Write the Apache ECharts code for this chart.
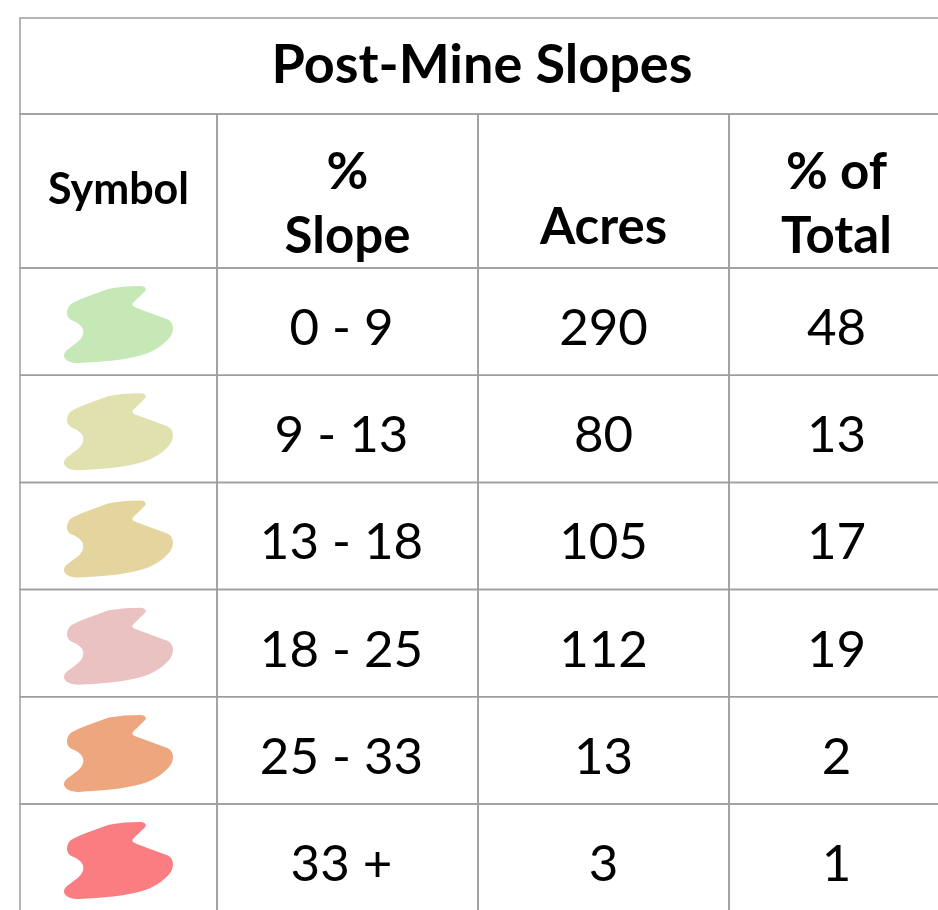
<!DOCTYPE html>
<html><head><meta charset="utf-8">
<script src="https://cdn.jsdelivr.net/npm/echarts@6/dist/echarts.min.js"></script>
<style>html,body{margin:0;padding:0;background:#fff}#chart{width:938px;height:910px}</style>
</head><body><div id="chart"></div>
<script>
// ---- data ----
const tableTitle = 'Post-Mine Slopes';
const columnHeaders = ['Symbol', '%\nSlope', 'Acres', '% of\nTotal'];
const slopeRanges = ['0 - 9', '9 - 13', '13 - 18', '18 - 25', '25 - 33', '33 +'];
const acres = [290, 80, 105, 112, 13, 3];
const percentOfTotal = [48, 13, 17, 19, 2, 1];
const symbolColors = ['#c6e7b6', '#e1e1b0', '#e4d59f', '#eac2c1', '#eea67f', '#fa7e81'];

// ---- layout / style ----
const colEdges = [0, 197, 458, 709, 924];
const titleH = 96, headerH = 154, rowH = 107.2;
const rowEdges = [0, titleH, titleH + headerH];
for (let i = 1; i <= slopeRanges.length; i++) rowEdges.push(titleH + headerH + rowH * i);
const headerOffsets = [-1, 14, 37, 14];
const lineColor = '#9d9d9d';
const FONT = 'Lato';
const blobPath = 'M138 8 C170 2 200 0 228 0 C242 0 252 6 244 16 L210 50 C204 57 208 62 220 66 L310 100 C330 108 332 135 318 155 C300 178 270 200 228 211 C190 222 120 230 48 233 C20 234 -5 218 10 198 C25 182 55 170 62 145 C66 125 50 112 30 104 C10 96 10 70 25 55 C45 40 100 22 138 8 Z';

const rowCount = 2 + slopeRanges.length;
const rowsData = [];
for (let r = 0; r < rowCount; r++) rowsData.push([0, r]);

function cellRect(api, c0, c1, r) {
  const p0 = api.coord([colEdges[c0], rowEdges[r]]);
  const p1 = api.coord([colEdges[c1], rowEdges[r + 1]]);
  return {x: p0[0], y: p0[1], width: p1[0] - p0[0], height: p1[1] - p0[1]};
}
function border(rect) {
  return {type: 'rect', shape: rect, style: {fill: 'none', stroke: lineColor, lineWidth: 1.5}, z2: 5};
}
function txt(x, y, text, size, weight, lh) {
  return {type: 'text', x: x, y: y, z2: 10, style: {
    text: text, fill: '#000', fontFamily: FONT, fontSize: size, fontWeight: weight,
    align: 'center', verticalAlign: 'middle', lineHeight: lh || size
  }};
}

function renderItem(params, api) {
  const r = api.value(1);
  const children = [];
  if (r === 0) {
    const rect = cellRect(api, 0, 4, 0);
    children.push(border(rect));
    children.push(txt(rect.x + rect.width / 2, rect.y + rect.height / 2 - 0.5, tableTitle, 54, 'bold'));
  } else if (r === 1) {
    for (let c = 0; c < 4; c++) {
      const rect = cellRect(api, c, c + 1, 1);
      children.push(border(rect));
      children.push(txt(rect.x + rect.width / 2, rect.y + rect.height / 2 + headerOffsets[c],
        columnHeaders[c], c === 0 ? 43 : 51, 'bold', 64));
    }
  } else {
    const i = r - 2;
    const vals = [null, slopeRanges[i], String(acres[i]), String(percentOfTotal[i])];
    for (let c = 0; c < 4; c++) {
      const rect = cellRect(api, c, c + 1, r);
      children.push(border(rect));
      const cx = rect.x + rect.width / 2, cy = rect.y + rect.height / 2;
      if (c === 0) {
        children.push({type: 'path', z2: 3, shape: {pathData: blobPath, x: cx - 54.5, y: cy - 35.5, width: 109, height: 77, layout: 'cover'},
          style: {fill: symbolColors[i]}});
      } else {
        children.push(txt(cx + (c === 1 ? -6 : 0), cy + 7, vals[c], 51, 'normal'));
      }
    }
  }
  return {type: 'group', children: children};
}

const chart = echarts.init(document.getElementById('chart'), null, {renderer: 'canvas'});
chart.setOption({
  backgroundColor: '#fff',
  animation: false,
  grid: {left: 20, top: 18, width: colEdges[4], height: rowEdges[rowEdges.length - 1], outerBoundsMode: 'none', containLabel: false},
  xAxis: {type: 'value', min: 0, max: colEdges[4], show: false},
  yAxis: {type: 'value', min: 0, max: rowEdges[rowEdges.length - 1], inverse: true, show: false},
  series: [{
    type: 'custom', coordinateSystem: 'cartesian2d', renderItem: renderItem,
    data: rowsData, encode: {x: 0, y: 1}, clip: false, silent: true
  }]
});
</script></body></html>
